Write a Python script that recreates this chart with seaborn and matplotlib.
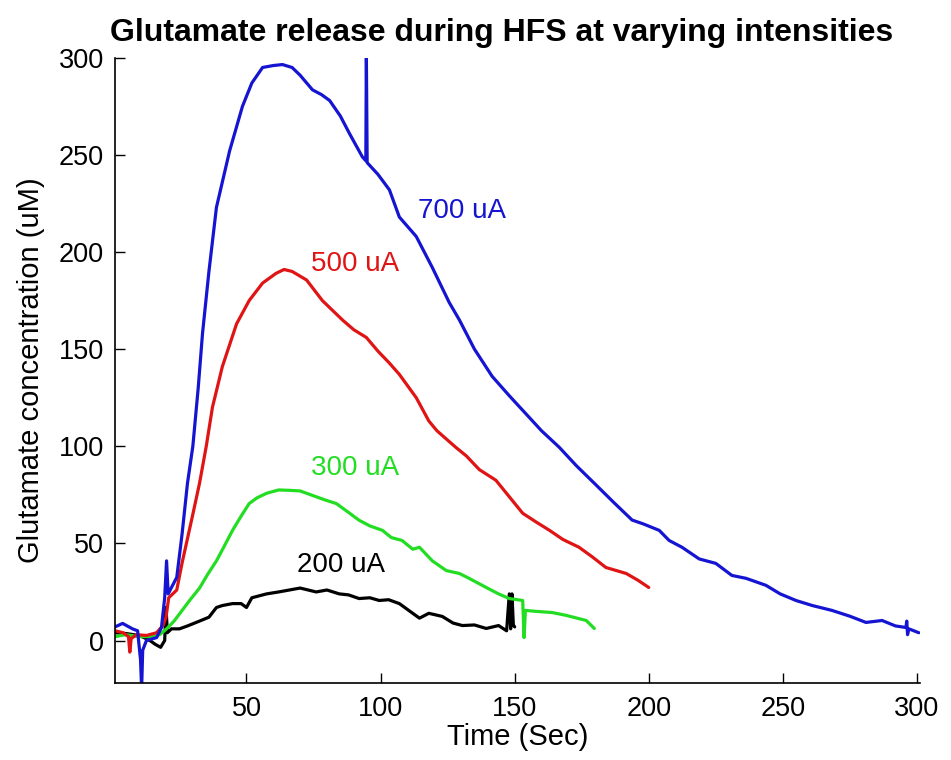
import pandas as pd
import numpy as np
import matplotlib
matplotlib.use('Agg')
import matplotlib.pyplot as plt
import seaborn as sns

# traces (time in s, glutamate in uM)
t_700 = [1, 3.8, 7.5, 9.4, 10.5, 10.9, 11.3, 12.7, 16.5, 18.3, 19.5, 20.2, 20.8, 24, 26, 28,
         30, 32, 33.6, 36, 38.8, 43.7, 48.5, 52, 56, 60, 63.4, 67, 70, 74.6, 78, 81, 85, 88.4,
         93.2, 94.5, 94.7, 95, 99, 103.3, 107, 113.3, 119.3, 125.6, 129.4, 135, 141.6, 148,
         154, 160, 166.6, 173, 180.4, 187, 193.8, 198, 203.9, 207.6, 212.4, 218.8, 225, 231,
         236.3, 243.7, 249, 254.9, 261, 268.3, 275, 281, 287, 292, 295.9, 296.2, 296.5, 297, 300.7]
c_700 = [7, 8.8, 6, 5, -10, -25, -5, 0, 1.5, 6.7, 22, 41, 24, 32.5, 55, 81,
         100, 130, 158, 190, 223, 252, 275, 287, 295, 296, 296.5, 295, 291, 283.5, 281, 278, 270, 261,
         249, 247, 302, 246, 240, 232, 218, 208, 192, 174, 165, 150, 136, 126,
         117, 108, 99.5, 90, 80, 71, 62, 60, 56.7, 51.5, 48, 42, 39.7, 33.5,
         32, 28.4, 24, 20.6, 18, 15.5, 12.5, 9.3, 10.3, 7.5, 6.7, 10, 3, 6, 4]

t_500 = [1, 4, 6, 6.5, 7, 9, 12.7, 16.5, 19, 20, 21, 24, 26, 27.6, 30, 32.5, 35, 37.3, 41,
         46.3, 51, 56, 61, 64, 67, 72.4, 78.3, 85.8, 90, 94.7, 99, 103.3, 107, 113.3, 118,
         121, 128, 132, 136.8, 143, 148, 153, 158, 163, 168, 174, 179, 184, 191.6, 196, 200]
c_500 = [5, 4, 2, -6, 1, 3, 2.6, 4, 8, 12, 22, 26, 40, 50, 65, 81, 100, 120, 141,
         163, 175, 184, 189, 191, 190, 185.6, 175, 165, 160, 156, 149, 142.8, 137, 125, 113,
         108, 99.5, 95, 88, 82.5, 74, 65.5, 61, 56.7, 52, 48, 43, 37.6, 34.5, 31, 27.3]

t_300 = [1, 5, 10, 15, 17.6, 20.2, 23, 26, 29, 32.5, 35.5, 38.8, 41.5, 44.8, 48, 51, 54,
         57.5, 62, 66, 70, 74.6, 79, 83.5, 88, 92, 96, 100.7, 104, 108, 112, 114.5, 119.3,
         124.5, 129.4, 133, 139.4, 144, 148, 153, 153.5, 154, 158, 164, 169, 176.7, 179.7]
c_300 = [2, 3, 2, 2, 3, 6, 10, 15.5, 21, 27, 34, 41, 48, 56.7, 64, 70.5, 73.5,
         75.8, 77.5, 77.3, 77, 74.7, 72.5, 70.5, 66, 61.9, 59, 56.7, 53, 51.5, 47, 48, 41,
         36, 34.5, 32, 27.3, 24, 21.6, 20.6, 1.5, 15.5, 15, 14.4, 13, 10.3, 6.2]

t_200 = [1, 5, 8, 11, 14, 16, 18, 19.5, 20, 20.5, 22, 25, 28, 32.5, 36, 38.8, 41, 44.8, 48,
         50, 52, 57.5, 62, 66, 70, 76, 80, 84.6, 88, 92, 96, 99.5, 103, 107, 111, 114.5, 118,
         123, 127, 130.5, 135, 139.4, 144, 147, 148, 148.5, 149, 149.5, 150]
c_200 = [4, 3.6, 3, 2, 0, -2, -3.5, 0, 17, 4, 6, 6, 7.5, 10, 12, 17, 18, 19, 19,
         17, 22, 24, 25, 26, 27, 25, 26, 24, 23.5, 21.6, 22, 20.6, 21, 19, 15, 11.5, 14,
         12.4, 9, 7.7, 8, 6.2, 7.7, 5, 24, 6, 24, 8, 7]

labels = ['700 uA', '500 uA', '300 uA', '200 uA']
colors = ['#1414d2', '#e01414', '#22dd22', '#000000']
label_pos = [(114, 221), (74, 194), (74, 89), (69, 39)]

frames = []
for lab, t, c in zip(labels, [t_700, t_500, t_300, t_200], [c_700, c_500, c_300, c_200]):
    frames.append(pd.DataFrame({'time': t, 'glu': c, 'intensity': lab}))
df = pd.concat(frames, ignore_index=True)

sns.set_style('ticks')
plt.rcParams['font.family'] = ['Liberation Sans', 'DejaVu Sans']
plt.rcParams['text.color'] = 'black'
plt.rcParams['axes.labelcolor'] = 'black'

fig = plt.figure(figsize=(9.51, 7.6), dpi=100)
ax = fig.add_axes([0.121, 0.101, 0.846, 0.823])

# draw back to front so blue sits on top like the original
for lab, col in zip(labels[::-1], colors[::-1]):
    sub = df[df['intensity'] == lab]
    sns.lineplot(data=sub, x='time', y='glu', color=col, linewidth=2.3,
                 estimator=None, sort=False, ax=ax)

for lab, col, (x, y) in zip(labels, colors, label_pos):
    ax.text(x, y, lab, color=col, fontsize=20, va='center', ha='left')

ax.set_xlim(1, 301)
ax.set_ylim(-22, 300)
ax.set_xticks([50, 100, 150, 200, 250, 300])
ax.set_yticks([0, 50, 100, 150, 200, 250, 300])
ax.tick_params(direction='in', length=7, width=1, labelsize=19.5, colors='black')
ax.tick_params(axis='y', pad=8)
ax.tick_params(axis='x', pad=9)
for s in ['left', 'bottom']:
    ax.spines[s].set_linewidth(1.2)
    ax.spines[s].set_color('black')
sns.despine(ax=ax)

ax.set_xlabel('Time (Sec)', fontsize=21, labelpad=1)
ax.set_ylabel('Glutamate concentration (uM)', fontsize=21, labelpad=10)
ax.set_title('Glutamate release during HFS at varying intensities',
             fontsize=23, fontweight='bold', pad=12, x=0.48)

plt.savefig('out.png', dpi=100)
